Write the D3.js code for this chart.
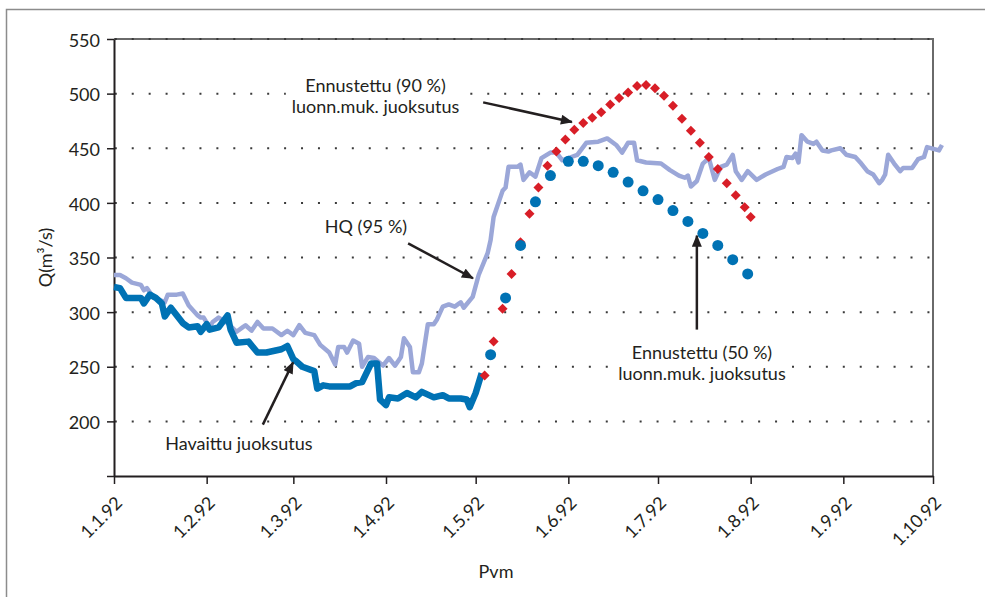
<!DOCTYPE html>
<html>
<head>
<meta charset="utf-8">
<script src="https://cdn.jsdelivr.net/npm/d3@7"></script>
<style>
  body { margin: 0; background: #fff; }
  text { font-family: Lato, "Open Sans", sans-serif; fill: #231f20; }
</style>
</head>
<body>
<svg id="chart" width="985" height="597"></svg>
<script>
// day of year 1992 (0 = 1.1.) and flow Q (m3/s)
const hqSeries = [
  [0,334],[2,334],[4,331],[6,327],[9,325],[10,320],[11,322],[13,314],[17,309],[18,316],
  [21,316],[23,317],[25,306],[28,297],[29,295],[30,295],[32,286],[33,291],[35,295],[38,290],
  [41,282],[43,286],[44,288],[46,283],[48,291],[50,285],[53,285],[56,279],[58,283],[60,279],
  [62,288],[64,281],[67,279],[69,270],[72,263],[74,252],[75,268],[77,268],[78,263],[80,274],
  [82,271],[83,250],[85,259],[87,258],[90,251],[92,258],[94,251],[96,259],[97,276],[99,268],
  [100,245],[102,245],[103,253],[105,289],[107,289],[108,293],[110,305],[112,307],[114,305],
  [116,309],[117,304],[120,314],[122,334],[125,354],[126,366],[127,387],[130,411],[131,414],
  [132,433],[135,433],[136,435],[137,421],[139,428],[141,424],[143,441],[146,446],[148,446],
  [150,439],[153,442],[155,444],[158,455],[162,456],[165,459],[168,453],[170,446],[172,455],
  [174,455],[175,439],[178,437],[183,436],[186,430],[189,425],[191,423],[192,425],[193,415],
  [195,420],[197,436],[199,441],[201,421],[203,433],[205,435],[207,444],[208,429],[210,421],
  [212,429],[215,421],[218,426],[222,431],[224,433],[225,442],[227,441],[228,445],[229,437],
  [230,462],[232,456],[234,454],[235,456],[237,448],[239,447],[240,448],[243,450],[245,444],
  [248,442],[250,436],[252,429],[254,426],[256,418],[257,421],[258,426],[259,444],[261,436],
  [263,429],[264,432],[267,432],[269,440],[271,442],[272,451],[276,448],[277,453]
];
const observedSeries = [
  [0,323],[2,322],[4,313],[9,313],[10,308],[12,316],[14,313],[16,308],[17,296],[19,304],
  [23,290],[25,286],[28,287],[29,282],[31,289],[32,284],[35,286],[38,297],[39,284],[41,272],
  [45,273],[48,263],[51,263],[56,266],[58,269],[60,257],[61,255],[63,250],[67,246],[68,230],
  [70,233],[72,232],[79,232],[81,235],[83,236],[86,253],[88,253],[89,220],[91,215],[92,222],
  [95,221],[98,226],[101,222],[103,227],[107,222],[110,224],[112,221],[116,221],[118,220],
  [119,213],[121,226],[123,244]
];
const forecast90 = [
  [124,242],[127,273],[130,303],[133,335],[136,364],[139,390],[142,414],[145,434],[148,447],
  [151,458],[154,467],[157,473],[160,478],[163,483],[166,490],[169,496],[172,501],[175,507],
  [178,508],[181,505],[184,498],[187,489],[190,477],[193,466],[196,455],[199,442],[202,431],
  [205,418],[208,407],[211,396],[213,387]
];
const forecast50 = [
  [126,261],[131,313],[136,361],[141,401],[146,425],[152,438],[157,438],[162,434],[167,428],
  [172,419],[177,411],[182,403],[187,393],[192,383],[197,372],[202,361],[207,348],[212,335]
];
const yTicks = [150, 200, 250, 300, 350, 400, 450, 500, 550];
const gridValues = [200, 250, 300, 350, 400, 450, 500, 550];
const monthTicks = [0, 1, 2, 3, 4, 5, 6, 7, 8, 9];

// annotations: label lines at [day, Q], arrows from [day, Q] to [day, Q]
const notes = [
  { lines: ["Ennustettu (90 %)", "luonn.muk. juoksutus"], at: [87.5, 501.5], from: [123.5, 492], to: [153.2, 474] },
  { lines: ["HQ (95 %)"], at: [84.3, 372], from: [98.4, 363], to: [120.1, 331] },
  { lines: ["Ennustettu (50 %)", "luonn.muk. juoksutus"], at: [196.7, 257], from: [195, 284], to: [195, 370] },
  { lines: ["Havaittu juoksutus"], at: [41.8, 174], from: [49.8, 197], to: [59.9, 254] }
];

const svg = d3.select('#chart');
const margin = { left: 114, right: 52, top: 39, bottom: 121 };
const width = +svg.attr('width');
const height = +svg.attr('height');
const innerWidth = width - margin.left - margin.right;
const innerHeight = height - margin.top - margin.bottom;

const start = Date.UTC(1992, 0, 1);
const toDate = d => new Date(start + d * 864e5);

// outer frame (only top and left edges fall inside the picture)
svg.append('path')
  .attr('d', `M6.5,${height}V9.5H${width}`)
  .attr('fill', 'none')
  .attr('stroke', '#8c8c8c')
  .attr('stroke-width', 1.5);

const g = svg.append('g')
  .attr('transform', `translate(${margin.left},${margin.top})`);

const xScale = d3.scaleUtc()
  .domain([new Date(start), new Date(Date.UTC(1992, 9, 1))])
  .range([0, innerWidth]);

const yScale = d3.scaleLinear()
  .domain([150, 550])
  .range([innerHeight, 0]);

// top and right frame of plot area
g.append('path')
  .attr('d', `M0,${yScale(550)}H${innerWidth}V${innerHeight}`)
  .attr('fill', 'none')
  .attr('stroke', '#6a6a6a')
  .attr('stroke-width', 2);

// dotted grid
g.selectAll('.grid').data(gridValues).enter().append('line')
  .attr('class', 'grid')
  .attr('x1', 0).attr('x2', innerWidth)
  .attr('y1', d => yScale(d)).attr('y2', d => yScale(d))
  .attr('stroke', '#3a3a3a')
  .attr('stroke-width', 2)
  .attr('stroke-dasharray', '2 14.93')
  .attr('stroke-dashoffset', -0.8);

const xAxis = d3.axisBottom(xScale)
  .tickValues(monthTicks.map(m => new Date(Date.UTC(1992, m, 1))))
  .tickFormat(d3.utcFormat('%-d.%-m.%y'))
  .tickSize(8)
  .tickSizeOuter(0);

const yAxis = d3.axisLeft(yScale)
  .tickValues(yTicks)
  .tickFormat(d => d === 150 ? '' : d)
  .tickSize(7)
  .tickSizeOuter(0)
  .tickPadding(7);

const xAxisG = g.append('g')
  .attr('transform', `translate(0,${innerHeight})`)
  .call(xAxis);
xAxisG.selectAll('text')
  .attr('text-anchor', 'end')
  .attr('dy', null)
  .attr('y', 0)
  .attr('transform', 'translate(9,28) rotate(-45)')
  .style('font-size', '18px');

const yAxisG = g.append('g').call(yAxis);
yAxisG.selectAll('text')
  .attr('dy', '0.4em')
  .style('font-size', '18px');

[xAxisG, yAxisG].forEach(a => {
  a.select('.domain').attr('stroke', '#231f20').attr('stroke-width', 2);
  a.selectAll('.tick line').attr('stroke', '#231f20').attr('stroke-width', 1.5);
});

// axis titles
g.append('text')
  .attr('transform', `translate(${-62},${innerHeight / 2}) rotate(-90)`)
  .attr('text-anchor', 'middle')
  .style('font-size', '18px')
  .text('Q(m³/s)');

g.append('text')
  .attr('x', 496 - margin.left)
  .attr('y', 578 - margin.top)
  .attr('text-anchor', 'middle')
  .style('font-size', '18px')
  .text('Pvm');

const line = d3.line()
  .x(d => xScale(toDate(d[0])))
  .y(d => yScale(d[1]));

g.append('path')
  .datum(hqSeries)
  .attr('fill', 'none')
  .attr('stroke', '#9ba7d8')
  .attr('stroke-width', 4.5)
  .attr('stroke-linejoin', 'round')
  .attr('d', line);

g.append('path')
  .datum(observedSeries)
  .attr('fill', 'none')
  .attr('stroke', '#0072b4')
  .attr('stroke-width', 6.5)
  .attr('stroke-linejoin', 'round')
  .attr('d', line);

g.selectAll('.d90').data(forecast90).enter().append('path')
  .attr('class', 'd90')
  .attr('d', d3.symbol(d3.symbolSquare, 50))
  .attr('transform', d => `translate(${xScale(toDate(d[0]))},${yScale(d[1])}) rotate(45)`)
  .attr('fill', '#d81e27');

g.selectAll('.d50').data(forecast50).enter().append('circle')
  .attr('class', 'd50')
  .attr('cx', d => xScale(toDate(d[0])))
  .attr('cy', d => yScale(d[1]))
  .attr('r', 5.5)
  .attr('fill', '#0072b4');

// annotations
svg.append('defs').append('marker')
  .attr('id', 'head')
  .attr('viewBox', '0 0 12 10')
  .attr('refX', 11).attr('refY', 5)
  .attr('markerWidth', 13).attr('markerHeight', 10)
  .attr('markerUnits', 'userSpaceOnUse')
  .attr('orient', 'auto')
  .append('path')
  .attr('d', 'M0,0L12,5L0,10Z')
  .attr('fill', '#231f20');

notes.forEach(n => {
  g.append('line')
    .attr('x1', xScale(toDate(n.from[0]))).attr('y1', yScale(n.from[1]))
    .attr('x2', xScale(toDate(n.to[0]))).attr('y2', yScale(n.to[1]))
    .attr('stroke', '#231f20')
    .attr('stroke-width', 2.5)
    .attr('marker-end', 'url(#head)');
  const lg = g.append('g');
  const bg = lg.append('rect').attr('fill', '#fff');
  const t = lg.append('text')
    .attr('text-anchor', 'middle')
    .style('font-size', '18px');
  n.lines.forEach((s, i) => {
    t.append('tspan')
      .attr('x', xScale(toDate(n.at[0])))
      .attr('y', yScale(n.at[1]) + i * 21)
      .text(s);
  });
  const b = t.node().getBBox();
  bg.attr('x', b.x - 6).attr('y', b.y - 1)
    .attr('width', b.width + 12).attr('height', b.height + 2);
});
</script>
</body>
</html>
